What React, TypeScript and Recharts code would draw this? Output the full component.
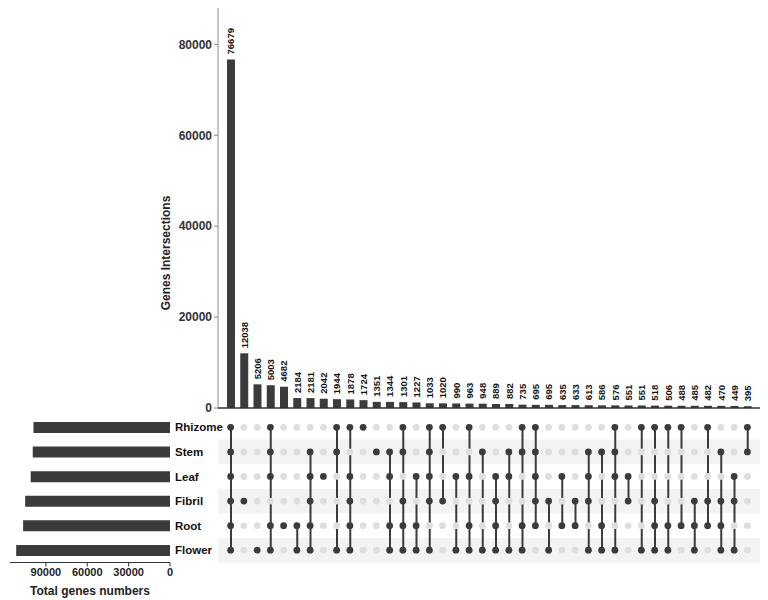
import React from 'react';
import {
  BarChart, Bar, ComposedChart, Scatter, XAxis, YAxis, LabelList, ReferenceArea, Label,
} from 'recharts';

const FONT = '"Liberation Sans", Arial, sans-serif';

// sets, top to bottom in the matrix
const setNames = ['Rhizome', 'Stem', 'Leaf', 'Fibril', 'Root', 'Flower'];
const setSizes = [99000, 99500, 101000, 105000, 106500, 111500];
const setTicks = [0, 30000, 60000, 90000];

// intersection sizes, left to right
const intersectionSizes = [
  76679, 12038, 5206, 5003, 4682, 2184, 2181, 2042, 1944, 1878,
  1724, 1351, 1344, 1301, 1227, 1033, 1020, 990, 963, 948,
  889, 882, 735, 695, 695, 635, 633, 613, 586, 576,
  551, 551, 518, 506, 488, 485, 482, 470, 449, 395,
];
const intersectionTicks = [0, 20000, 40000, 60000, 80000];

// which sets make up each intersection
const intersectionSets = [
  ['Rhizome', 'Stem', 'Leaf', 'Fibril', 'Root', 'Flower'],
  ['Fibril'],
  ['Flower'],
  ['Rhizome', 'Stem', 'Leaf', 'Root', 'Flower'],
  ['Root'],
  ['Root', 'Flower'],
  ['Stem', 'Leaf', 'Fibril', 'Root', 'Flower'],
  ['Leaf'],
  ['Rhizome', 'Stem', 'Flower'],
  ['Rhizome', 'Leaf', 'Fibril', 'Root', 'Flower'],
  ['Rhizome'],
  ['Stem'],
  ['Stem', 'Leaf', 'Root', 'Flower'],
  ['Rhizome', 'Stem', 'Fibril', 'Root', 'Flower'],
  ['Leaf', 'Root', 'Flower'],
  ['Rhizome', 'Stem', 'Leaf', 'Fibril', 'Flower'],
  ['Rhizome', 'Fibril'],
  ['Leaf', 'Flower'],
  ['Rhizome', 'Leaf', 'Root', 'Flower'],
  ['Stem', 'Flower'],
  ['Leaf', 'Fibril', 'Root', 'Flower'],
  ['Stem', 'Leaf', 'Flower'],
  ['Rhizome', 'Stem', 'Root', 'Flower'],
  ['Rhizome', 'Stem', 'Leaf', 'Fibril', 'Root'],
  ['Fibril', 'Flower'],
  ['Leaf', 'Root'],
  ['Fibril', 'Root'],
  ['Stem', 'Leaf', 'Fibril', 'Flower'],
  ['Stem', 'Root', 'Flower'],
  ['Rhizome', 'Stem', 'Leaf', 'Flower'],
  ['Leaf', 'Fibril'],
  ['Rhizome', 'Flower'],
  ['Rhizome', 'Fibril', 'Root', 'Flower'],
  ['Rhizome', 'Root', 'Flower'],
  ['Rhizome', 'Root'],
  ['Fibril', 'Root', 'Flower'],
  ['Rhizome', 'Fibril', 'Root'],
  ['Stem', 'Fibril', 'Root', 'Flower'],
  ['Leaf', 'Fibril', 'Flower'],
  ['Rhizome', 'Stem'],
];

const DARK = '#3b3b3b';
const EMPTY = '#dedede';
const STRIPE = '#f3f3f3';
const X_PAD = { left: 6, right: 6 };
const MATRIX_MARGIN = { top: 15, right: 8, bottom: 7.5, left: 218 };

const columns = intersectionSizes.map((size, i) => {
  const rows = intersectionSets[i].map(s => setNames.indexOf(s) + 1);
  return {
    id: 'c' + (i + 1),
    size,
    sets: intersectionSets[i],
    span: [Math.min(...rows), Math.max(...rows)],
  };
});

const setData = setNames.map((name, i) => ({ name, size: setSizes[i] }));

const BarValueLabel = (props: any) => {
  const { x, y, width, value } = props;
  const cx = x + width / 2;
  const ty = y - 5;
  return (
    <text
      x={cx}
      y={ty}
      transform={`rotate(-90, ${cx}, ${ty})`}
      textAnchor="start"
      dominantBaseline="central"
      fontSize={9.5}
      fontWeight="bold"
      fill="#111"
      fontFamily={FONT}
    >
      {value}
    </text>
  );
};

const dotShape = (setName: string, filled: boolean) => (props: any) => {
  const isMember = props.payload.sets.includes(setName);
  if (isMember !== filled) return <g />;
  return <circle cx={props.cx} cy={props.cy} r={3.4} fill={filled ? DARK : EMPTY} />;
};

export default function App() {
  return (
    <div style={{ position: 'absolute', left: 0, top: 0, width: 768, height: 600, background: '#fff', fontFamily: FONT }}>
      {/* intersection sizes */}
      <div style={{ position: 'absolute', left: 0, top: 0 }}>
        <BarChart width={768} height={420} data={columns} margin={{ top: 8, right: 8, bottom: 11, left: 158 }}>
          <XAxis dataKey="id" type="category" padding={X_PAD} tick={false} tickLine={false} height={1}
            axisLine={{ stroke: '#333', strokeWidth: 1.5 }} />
          <YAxis type="number" width={60} domain={[0, 88000]} ticks={intersectionTicks} interval={0}
            axisLine={{ stroke: '#888' }} tickLine={{ stroke: '#888' }} tickSize={4}
            tick={{ fontSize: 12, fontWeight: 'bold', fill: '#333', fontFamily: FONT }}>
            <Label value="Genes Intersections" angle={-90} position="center" dx={-22} dy={45}
              style={{ fontSize: 12, fontWeight: 'bold', fill: '#222', fontFamily: FONT }} />
          </YAxis>
          <Bar dataKey="size" fill={DARK} barSize={8} isAnimationActive={false}>
            <LabelList dataKey="size" content={BarValueLabel} />
          </Bar>
        </BarChart>
      </div>

      {/* row stripes behind the matrix */}
      <div style={{ position: 'absolute', left: 0, top: 400 }}>
        <ComposedChart width={768} height={170} data={columns} margin={MATRIX_MARGIN}>
          <XAxis dataKey="id" type="category" hide />
          <YAxis type="number" domain={[0.5, 6.5]} reversed hide allowDataOverflow />
          {setNames.map((name, i) => (i % 2 === 1 ? (
            <ReferenceArea key={'s' + name} y1={i + 0.5} y2={i + 1.5} fill={STRIPE} fillOpacity={1} stroke="none" />
          ) : null))}
        </ComposedChart>
      </div>

      {/* membership matrix */}
      <div style={{ position: 'absolute', left: 0, top: 400 }}>
        <ComposedChart width={768} height={170} data={columns} margin={MATRIX_MARGIN}>
          <XAxis dataKey="id" type="category" padding={X_PAD} hide />
          <YAxis type="number" domain={[0.5, 6.5]} reversed hide allowDataOverflow />
          {setNames.map((name, i) => (
            <Scatter key={'e' + name} dataKey={() => i + 1} shape={dotShape(name, false)} isAnimationActive={false} />
          ))}
          <Bar dataKey="span" fill={DARK} barSize={2} isAnimationActive={false} />
          {setNames.map((name, i) => (
            <Scatter key={'f' + name} dataKey={() => i + 1} shape={dotShape(name, true)} isAnimationActive={false} />
          ))}
        </ComposedChart>
      </div>

      {/* set sizes */}
      <div style={{ position: 'absolute', left: 0, top: 400 }}>
        <BarChart width={240} height={200} data={setData} layout="vertical" margin={{ top: 15, right: 22, bottom: 0, left: 10 }}>
          <XAxis type="number" reversed domain={[0, 116000]} ticks={setTicks} interval={0} height={37.5}
            axisLine={{ stroke: '#333' }} tickLine={{ stroke: '#333' }} tickSize={4}
            tick={{ fontSize: 11, fontWeight: 'bold', fill: '#222', fontFamily: FONT }}>
            <Label value="Total genes numbers" position="insideBottom" offset={5}
              style={{ fontSize: 12, fontWeight: 'bold', fill: '#222', fontFamily: FONT }} />
          </XAxis>
          <YAxis type="category" dataKey="name" orientation="right" width={48} axisLine={false} tickLine={false}
            tickSize={0} tickMargin={5}
            tick={{ fontSize: 11.5, fontWeight: 'bold', fill: '#111', fontFamily: FONT, textAnchor: 'start' }} />
          <Bar dataKey="size" fill={DARK} barSize={11} isAnimationActive={false} />
        </BarChart>
      </div>
    </div>
  );
}
